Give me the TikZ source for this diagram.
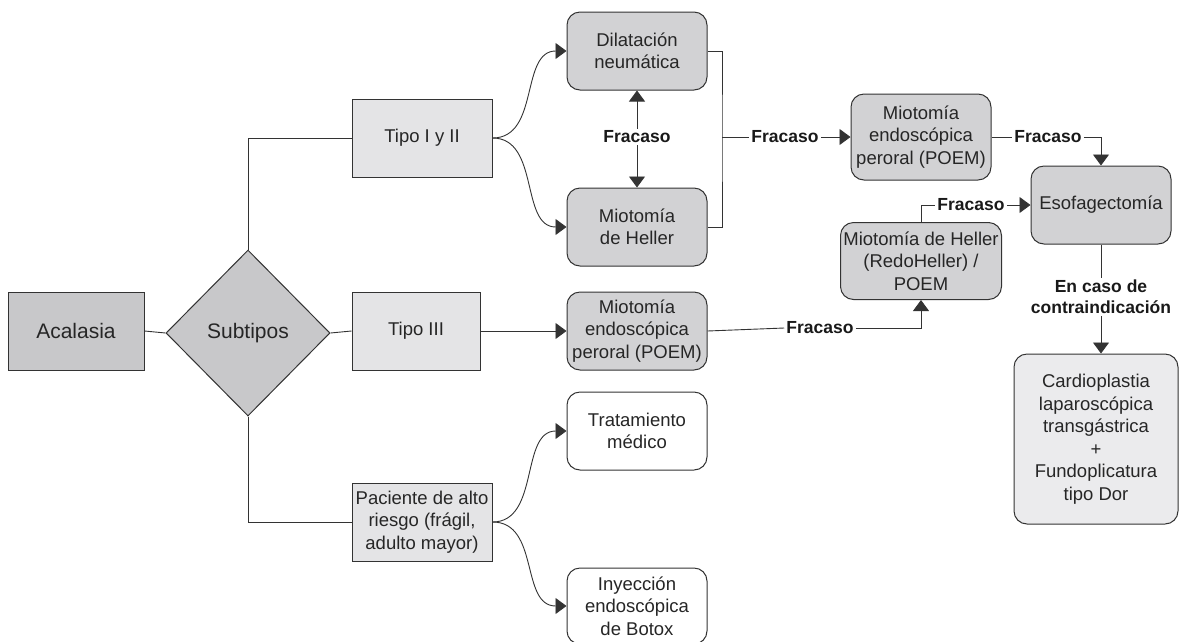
\documentclass[tikz,border=0pt]{standalone}
\usepackage{fontspec}
\setmainfont{Liberation Sans}
\usetikzlibrary{shapes.geometric,arrows.meta}
\definecolor{lc}{HTML}{333333}
\definecolor{gdark}{HTML}{C8C8CA}
\definecolor{gmid}{HTML}{D2D2D4}
\definecolor{glight}{HTML}{E4E4E6}
\definecolor{gvlight}{HTML}{EBEBED}
\tikzset{
  txt/.style={font=\fontsize{18.5}{22.5}\selectfont, align=center, inner sep=0pt, text=black!85},
  bigtxt/.style={font=\fontsize{21}{25}\selectfont},
  sqbox/.style={txt, draw=lc, line width=1pt},
  rbox/.style={txt, draw=lc, line width=1pt, rounded corners=13pt},
  lbl/.style={font=\bfseries\fontsize{17.5}{21}\selectfont, align=center, inner sep=2pt, text=black!90},
  conn/.style={draw=lc, line width=0.9pt},
  arr/.style={conn, -{Triangle[length=11pt,width=16pt]}},
}
\begin{document}
\begin{tikzpicture}[x=1pt,y=-1pt]
\useasboundingbox (0,0) rectangle (1179,641);
% left part
\node[sqbox, bigtxt, fill=gdark, minimum width=136pt, minimum height=78pt] (acal) at (76,331) {Acalasia};
\node[txt, bigtxt, diamond, draw=lc, line width=1pt, fill=gdark, minimum width=164pt, minimum height=166pt] (sub) at (248,333) {Subtipos};
\node[sqbox, fill=glight, minimum width=140pt, minimum height=78pt] (t12) at (422,138) {Tipo I y II};
\node[sqbox, fill=glight, minimum width=128pt, minimum height=78pt] (t3) at (416,331) {Tipo III};
\node[sqbox, fill=glight, minimum width=140pt, minimum height=78pt] (pac) at (422,522) {Paciente de alto\\riesgo (frágil,\\adulto mayor)};
% middle column
\node[rbox, fill=gmid, minimum width=140pt, minimum height=78pt] (dil) at (637,51) {Dilatación\\neumática};
\node[rbox, fill=gmid, minimum width=140pt, minimum height=78pt] (hel) at (637,227) {Miotomía\\de Heller};
\node[rbox, fill=gmid, minimum width=140pt, minimum height=78pt] (poem2) at (637,331) {Miotomía\\endoscópica\\peroral (POEM)};
\node[rbox, fill=white, minimum width=140pt, minimum height=78pt] (trat) at (637,431) {Tratamiento\\médico};
\node[rbox, fill=white, minimum width=140pt, minimum height=76pt] (botox) at (637,606) {Inyección\\endoscópica\\de Botox};
% right part
\node[rbox, fill=gmid, minimum width=140pt, minimum height=86pt] (poem1) at (921,137) {Miotomía\\endoscópica\\peroral (POEM)};
\node[rbox, fill=gmid, minimum width=161pt, minimum height=77pt] (redo) at (921,261) {Miotomía de Heller\\(RedoHeller) /\\POEM};
\node[rbox, fill=gmid, minimum width=140pt, minimum height=78pt] (esof) at (1101,205) {Esofagectomía};
\node[rbox, fill=gvlight, minimum width=164pt, minimum height=170pt] (card) at (1096,439) {Cardioplastia\\laparoscópica\\transgástrica\\+\\Fundoplicatura\\tipo Dor};
% labels
\node[lbl] (f1) at (637,137) {Fracaso};
\coordinate (brk) at (722,137);
\node[lbl] (f2) at (785,137) {Fracaso};
\node[lbl] (f3) at (1048,137) {Fracaso};
\node[lbl] (f4) at (971,205) {Fracaso};
\node[lbl] (f5) at (820,328) {Fracaso};
\node[lbl] (enc) at (1101,297) {En caso de\\contraindicación};
% connectors
\draw[conn] (acal.east) -- (sub.west);
\draw[conn] (sub.east) -- (t3.west);
\draw[conn] (sub.north) |- (t12.west);
\draw[conn] (sub.south) |- (pac.west);
\draw[arr] (t12.east) .. controls (540,138) and (520,51) .. (dil.west);
\draw[arr] (t12.east) .. controls (540,138) and (520,227) .. (hel.west);
\draw[arr] (pac.east) .. controls (540,522) and (520,431) .. (trat.west);
\draw[arr] (pac.east) .. controls (540,522) and (520,606) .. (botox.west);
\draw[arr] (t3.east) -- (poem2.west);
\draw[arr] (f1.north) -- (dil.south);
\draw[arr] (f1.south) -- (hel.north);
\draw[conn] (dil.east) -| (brk) |- (hel.east);
\draw[conn] (brk) -- (f2.west);
\draw[arr] (f2.east) -- (poem1.west);
\draw[conn] (poem1.east) -- (f3.west);
\draw[arr] (f3.east) -| (esof.north);
\draw[conn] (redo.north) |- (f4.west);
\draw[arr] (f4.east) -- (esof.west);
\draw[conn] (poem2.east) -- (f5.west);
\draw[arr] (f5.east) -| (redo.south);
\draw[conn] (esof.south) -- (enc.north);
\draw[arr] (enc.south) -- (enc.south |- card.north);
\end{tikzpicture}
\end{document}
